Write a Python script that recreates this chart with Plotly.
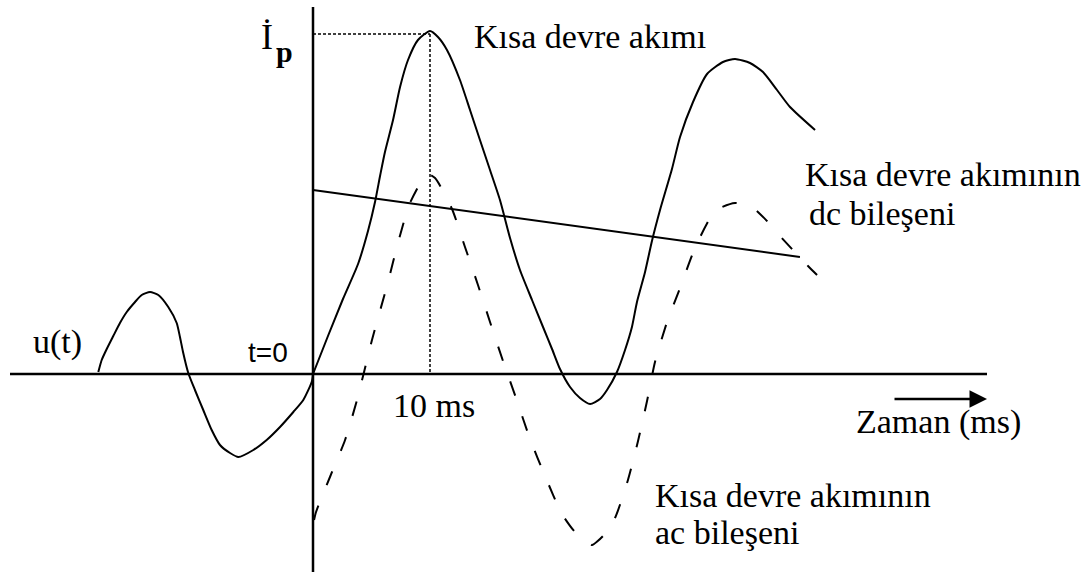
import plotly.graph_objects as go

# ---- data (time in ms, current/voltage in arbitrary units) ----
u_t = [-18.35, -18.06, -17.63, -17.07, -16.50, -15.92, -15.21, -14.64, -13.93,
       -13.22, -12.37, -11.65, -11.37, -11.09, -10.66, -10.09, -9.38, -8.66,
       -7.95, -7.09, -6.38, -5.10, -3.96, -2.82, -1.68, -0.83, -0.11, 0.0]
u_v = [0.02, 0.14, 0.25, 0.38, 0.51, 0.62, 0.72, 0.79, 0.82,
       0.79, 0.67, 0.51, 0.37, 0.21, 0.01, -0.16, -0.36, -0.56,
       -0.71, -0.79, -0.83, -0.76, -0.66, -0.53, -0.38, -0.26, -0.08, 0.0]

total_t = [0, 1.28, 2.56, 3.85, 4.70, 5.30, 5.73, 6.15, 6.84, 7.44, 8.12, 8.97,
           10.0, 10.68, 11.45, 12.56, 13.42, 14.27, 15.13, 15.98, 16.84, 17.69,
           18.72, 19.66, 20.43, 21.11, 21.97, 22.82, 23.68, 24.53, 25.13, 25.98,
           26.67, 27.26, 27.69, 28.38, 28.97, 29.66, 30.68, 31.37, 32.48, 33.68,
           35.04, 36.07, 37.35, 38.46, 39.66, 40.77, 42.91]
total_v = [0, 0.38, 0.75, 1.10, 1.43, 1.72, 1.98, 2.22, 2.54, 2.87, 3.14, 3.34,
           3.43, 3.37, 3.24, 2.94, 2.64, 2.34, 2.04, 1.74, 1.36, 1.04,
           0.74, 0.47, 0.25, 0.05, -0.13, -0.24, -0.30, -0.25, -0.16, 0.02,
           0.24, 0.47, 0.72, 1.02, 1.33, 1.64, 2.05, 2.37, 2.72, 3.00,
           3.12, 3.15, 3.11, 3.02, 2.84, 2.67, 2.44]

ac_t = [0.09, 0.26, 1.45, 2.74, 3.76, 5.04, 6.41, 7.26, 8.29, 9.74, 10.43, 11.88,
        12.99, 14.10, 15.13, 16.24, 17.44, 18.55, 19.83, 21.28, 22.39, 23.50,
        23.85, 24.79, 25.81, 26.92, 27.78, 28.55, 29.23, 30.26, 31.37, 32.65,
        34.36, 36.07, 37.52, 38.72, 39.91, 42.31, 43.08]
ac_v = [-1.46, -1.38, -1.03, -0.66, -0.26, 0.34, 0.92, 1.31, 1.71, 2.00, 1.96, 1.65,
        1.27, 0.89, 0.52, 0.13, -0.27, -0.65, -1.02, -1.40, -1.58, -1.68,
        -1.71, -1.62, -1.44, -1.06, -0.67, -0.27, 0.12, 0.52, 0.86, 1.26,
        1.63, 1.71, 1.67, 1.54, 1.38, 1.08, 0.99]

dc_t = [0, 41.62]
dc_v = [1.84, 1.17]

ip_value = 3.40
ip_time = 10.0

labels = {
    "ip": "İ",
    "ip_sub": "p",
    "total": "Kısa devre akımı",
    "dc1": "Kısa devre akımının",
    "dc2": "dc bileşeni",
    "ac1": "Kısa devre akımının",
    "ac2": "ac bileşeni",
    "u": "u(t)",
    "t0": "t=0",
    "ten": "10 ms",
    "time": "Zaman (ms)",
}

# ---- figure geometry ----
W, H = 1089, 572
X0PX, Y0PX = 313, 374          # pixel position of origin
PX_PER_MS = 11.7
PX_PER_UNIT = 100.0

def dx(px):
    return (px - X0PX) / PX_PER_MS

def dy(py):
    return (Y0PX - py) / PX_PER_UNIT

fig = go.Figure()

line_style = dict(color="black", width=2)
fig.add_trace(go.Scatter(x=u_t, y=u_v, mode="lines", line=dict(**line_style, shape="spline", smoothing=0.6)))
fig.add_trace(go.Scatter(x=total_t, y=total_v, mode="lines", line=dict(**line_style, shape="spline", smoothing=0.6)))
fig.add_trace(go.Scatter(x=ac_t, y=ac_v, mode="lines",
                         line=dict(color="black", width=2, dash="15px,22px", shape="spline", smoothing=0.6)))
fig.add_trace(go.Scatter(x=dc_t, y=dc_v, mode="lines", line=dict(color="black", width=2)))
# dotted guides to the peak
fig.add_trace(go.Scatter(x=[0, ip_time], y=[ip_value, ip_value], mode="lines",
                         line=dict(color="black", width=1.5, dash="3px,2px")))
fig.add_trace(go.Scatter(x=[ip_time, ip_time], y=[ip_value, 0], mode="lines",
                         line=dict(color="black", width=1.5, dash="3px,2px")))

# axes drawn as lines
fig.add_shape(type="line", x0=dx(10), x1=dx(987), y0=0, y1=0, line=dict(color="black", width=2.5))
fig.add_shape(type="line", x0=0, x1=0, y0=dy(572), y1=dy(7), line=dict(color="black", width=2.5))

# time arrow
fig.add_annotation(x=dx(987), y=dy(399), ax=dx(893), ay=dy(399), axref="x", ayref="y",
                   xref="x", yref="y", showarrow=True, arrowhead=2, arrowsize=1.4,
                   arrowwidth=2.5, arrowcolor="black", text="")

serif = "Liberation Serif"

def label(text, px, py, size=34, family=serif, xanchor="left"):
    fig.add_annotation(x=dx(px), y=dy(py), xref="x", yref="y", text=text, showarrow=False,
                       xanchor=xanchor, yanchor="middle",
                       font=dict(family=family, size=size, color="black"))

label(labels["ip"], 259, 37, size=36)
label("<b>" + labels["ip_sub"] + "</b>", 274, 51, size=30)
label(labels["total"], 472, 36)
label(labels["dc1"], 803, 174)
label(labels["dc2"], 807, 213)
label(labels["ac1"], 653, 495)
label(labels["ac2"], 653, 532)
label(labels["u"], 31, 342)
label(labels["t0"], 246, 352, size=28, family="Liberation Sans")
label(labels["ten"], 391, 405)
label(labels["time"], 854, 422)

fig.update_layout(
    width=W, height=H, autosize=False,
    margin=dict(l=0, r=0, t=0, b=0),
    paper_bgcolor="white", plot_bgcolor="white",
    showlegend=False,
    xaxis=dict(range=[dx(0), dx(W)], visible=False, fixedrange=True),
    yaxis=dict(range=[dy(H), dy(0)], visible=False, fixedrange=True),
)

fig.write_html("out.html", config={"displayModeBar": False},
               post_script="document.body.style.margin='0px';document.body.style.overflow='hidden';")
